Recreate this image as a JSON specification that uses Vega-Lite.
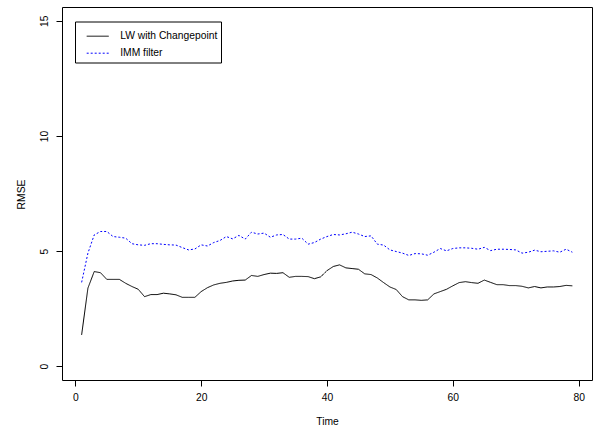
{
  "$schema": "https://vega.github.io/schema/vega-lite/v6.json",
  "autosize": "none",
  "padding": {"left": 62, "top": 7, "right": 1, "bottom": 47},
  "width": 530,
  "height": 373,
  "background": "white",
  "datasets": {
    "lw": [1.36,3.39,4.11,4.06,3.77,3.77,3.77,3.60,3.46,3.34,3.02,3.11,3.11,3.17,3.14,3.10,2.99,2.99,2.99,3.24,3.41,3.53,3.60,3.64,3.70,3.73,3.74,3.94,3.90,3.98,4.04,4.03,4.06,3.86,3.90,3.90,3.89,3.80,3.88,4.15,4.33,4.40,4.27,4.24,4.21,4.01,3.98,3.83,3.63,3.44,3.33,3.02,2.88,2.88,2.86,2.88,3.14,3.24,3.34,3.49,3.63,3.67,3.63,3.60,3.74,3.64,3.54,3.54,3.50,3.50,3.47,3.40,3.46,3.40,3.44,3.44,3.46,3.51,3.49],
    "imm": [3.64,4.91,5.70,5.85,5.85,5.63,5.60,5.56,5.32,5.27,5.25,5.32,5.32,5.29,5.27,5.26,5.15,5.05,5.09,5.27,5.22,5.37,5.46,5.63,5.53,5.68,5.52,5.82,5.74,5.78,5.60,5.70,5.72,5.52,5.52,5.56,5.30,5.37,5.52,5.63,5.72,5.70,5.75,5.82,5.74,5.63,5.66,5.30,5.26,5.05,4.98,4.91,4.81,4.89,4.88,4.82,4.95,5.11,5.01,5.11,5.14,5.14,5.12,5.08,5.16,5.02,5.08,5.08,5.07,5.05,4.91,4.95,5.04,4.97,4.99,5.01,4.95,5.08,4.95]
  },
  "data": {
    "values": [
      {"series": "LW with Changepoint", "time": 1, "rmse": 1.36},{"series": "LW with Changepoint", "time": 2, "rmse": 3.39},{"series": "LW with Changepoint", "time": 3, "rmse": 4.11},{"series": "LW with Changepoint", "time": 4, "rmse": 4.06},{"series": "LW with Changepoint", "time": 5, "rmse": 3.77},{"series": "LW with Changepoint", "time": 6, "rmse": 3.77},{"series": "LW with Changepoint", "time": 7, "rmse": 3.77},{"series": "LW with Changepoint", "time": 8, "rmse": 3.60},{"series": "LW with Changepoint", "time": 9, "rmse": 3.46},{"series": "LW with Changepoint", "time": 10, "rmse": 3.34},
      {"series": "LW with Changepoint", "time": 11, "rmse": 3.02},{"series": "LW with Changepoint", "time": 12, "rmse": 3.11},{"series": "LW with Changepoint", "time": 13, "rmse": 3.11},{"series": "LW with Changepoint", "time": 14, "rmse": 3.17},{"series": "LW with Changepoint", "time": 15, "rmse": 3.14},{"series": "LW with Changepoint", "time": 16, "rmse": 3.10},{"series": "LW with Changepoint", "time": 17, "rmse": 2.99},{"series": "LW with Changepoint", "time": 18, "rmse": 2.99},{"series": "LW with Changepoint", "time": 19, "rmse": 2.99},{"series": "LW with Changepoint", "time": 20, "rmse": 3.24},
      {"series": "LW with Changepoint", "time": 21, "rmse": 3.41},{"series": "LW with Changepoint", "time": 22, "rmse": 3.53},{"series": "LW with Changepoint", "time": 23, "rmse": 3.60},{"series": "LW with Changepoint", "time": 24, "rmse": 3.64},{"series": "LW with Changepoint", "time": 25, "rmse": 3.70},{"series": "LW with Changepoint", "time": 26, "rmse": 3.73},{"series": "LW with Changepoint", "time": 27, "rmse": 3.74},{"series": "LW with Changepoint", "time": 28, "rmse": 3.94},{"series": "LW with Changepoint", "time": 29, "rmse": 3.90},{"series": "LW with Changepoint", "time": 30, "rmse": 3.98},
      {"series": "LW with Changepoint", "time": 31, "rmse": 4.04},{"series": "LW with Changepoint", "time": 32, "rmse": 4.03},{"series": "LW with Changepoint", "time": 33, "rmse": 4.06},{"series": "LW with Changepoint", "time": 34, "rmse": 3.86},{"series": "LW with Changepoint", "time": 35, "rmse": 3.90},{"series": "LW with Changepoint", "time": 36, "rmse": 3.90},{"series": "LW with Changepoint", "time": 37, "rmse": 3.89},{"series": "LW with Changepoint", "time": 38, "rmse": 3.80},{"series": "LW with Changepoint", "time": 39, "rmse": 3.88},{"series": "LW with Changepoint", "time": 40, "rmse": 4.15},
      {"series": "LW with Changepoint", "time": 41, "rmse": 4.33},{"series": "LW with Changepoint", "time": 42, "rmse": 4.40},{"series": "LW with Changepoint", "time": 43, "rmse": 4.27},{"series": "LW with Changepoint", "time": 44, "rmse": 4.24},{"series": "LW with Changepoint", "time": 45, "rmse": 4.21},{"series": "LW with Changepoint", "time": 46, "rmse": 4.01},{"series": "LW with Changepoint", "time": 47, "rmse": 3.98},{"series": "LW with Changepoint", "time": 48, "rmse": 3.83},{"series": "LW with Changepoint", "time": 49, "rmse": 3.63},{"series": "LW with Changepoint", "time": 50, "rmse": 3.44},
      {"series": "LW with Changepoint", "time": 51, "rmse": 3.33},{"series": "LW with Changepoint", "time": 52, "rmse": 3.02},{"series": "LW with Changepoint", "time": 53, "rmse": 2.88},{"series": "LW with Changepoint", "time": 54, "rmse": 2.88},{"series": "LW with Changepoint", "time": 55, "rmse": 2.86},{"series": "LW with Changepoint", "time": 56, "rmse": 2.88},{"series": "LW with Changepoint", "time": 57, "rmse": 3.14},{"series": "LW with Changepoint", "time": 58, "rmse": 3.24},{"series": "LW with Changepoint", "time": 59, "rmse": 3.34},{"series": "LW with Changepoint", "time": 60, "rmse": 3.49},
      {"series": "LW with Changepoint", "time": 61, "rmse": 3.63},{"series": "LW with Changepoint", "time": 62, "rmse": 3.67},{"series": "LW with Changepoint", "time": 63, "rmse": 3.63},{"series": "LW with Changepoint", "time": 64, "rmse": 3.60},{"series": "LW with Changepoint", "time": 65, "rmse": 3.74},{"series": "LW with Changepoint", "time": 66, "rmse": 3.64},{"series": "LW with Changepoint", "time": 67, "rmse": 3.54},{"series": "LW with Changepoint", "time": 68, "rmse": 3.54},{"series": "LW with Changepoint", "time": 69, "rmse": 3.50},{"series": "LW with Changepoint", "time": 70, "rmse": 3.50},
      {"series": "LW with Changepoint", "time": 71, "rmse": 3.47},{"series": "LW with Changepoint", "time": 72, "rmse": 3.40},{"series": "LW with Changepoint", "time": 73, "rmse": 3.46},{"series": "LW with Changepoint", "time": 74, "rmse": 3.40},{"series": "LW with Changepoint", "time": 75, "rmse": 3.44},{"series": "LW with Changepoint", "time": 76, "rmse": 3.44},{"series": "LW with Changepoint", "time": 77, "rmse": 3.46},{"series": "LW with Changepoint", "time": 78, "rmse": 3.51},{"series": "LW with Changepoint", "time": 79, "rmse": 3.49},
      {"series": "IMM filter", "time": 1, "rmse": 3.64},{"series": "IMM filter", "time": 2, "rmse": 4.91},{"series": "IMM filter", "time": 3, "rmse": 5.70},{"series": "IMM filter", "time": 4, "rmse": 5.85},{"series": "IMM filter", "time": 5, "rmse": 5.85},{"series": "IMM filter", "time": 6, "rmse": 5.63},{"series": "IMM filter", "time": 7, "rmse": 5.60},{"series": "IMM filter", "time": 8, "rmse": 5.56},{"series": "IMM filter", "time": 9, "rmse": 5.32},{"series": "IMM filter", "time": 10, "rmse": 5.27},
      {"series": "IMM filter", "time": 11, "rmse": 5.25},{"series": "IMM filter", "time": 12, "rmse": 5.32},{"series": "IMM filter", "time": 13, "rmse": 5.32},{"series": "IMM filter", "time": 14, "rmse": 5.29},{"series": "IMM filter", "time": 15, "rmse": 5.27},{"series": "IMM filter", "time": 16, "rmse": 5.26},{"series": "IMM filter", "time": 17, "rmse": 5.15},{"series": "IMM filter", "time": 18, "rmse": 5.05},{"series": "IMM filter", "time": 19, "rmse": 5.09},{"series": "IMM filter", "time": 20, "rmse": 5.27},
      {"series": "IMM filter", "time": 21, "rmse": 5.22},{"series": "IMM filter", "time": 22, "rmse": 5.37},{"series": "IMM filter", "time": 23, "rmse": 5.46},{"series": "IMM filter", "time": 24, "rmse": 5.63},{"series": "IMM filter", "time": 25, "rmse": 5.53},{"series": "IMM filter", "time": 26, "rmse": 5.68},{"series": "IMM filter", "time": 27, "rmse": 5.52},{"series": "IMM filter", "time": 28, "rmse": 5.82},{"series": "IMM filter", "time": 29, "rmse": 5.74},{"series": "IMM filter", "time": 30, "rmse": 5.78},
      {"series": "IMM filter", "time": 31, "rmse": 5.60},{"series": "IMM filter", "time": 32, "rmse": 5.70},{"series": "IMM filter", "time": 33, "rmse": 5.72},{"series": "IMM filter", "time": 34, "rmse": 5.52},{"series": "IMM filter", "time": 35, "rmse": 5.52},{"series": "IMM filter", "time": 36, "rmse": 5.56},{"series": "IMM filter", "time": 37, "rmse": 5.30},{"series": "IMM filter", "time": 38, "rmse": 5.37},{"series": "IMM filter", "time": 39, "rmse": 5.52},{"series": "IMM filter", "time": 40, "rmse": 5.63},
      {"series": "IMM filter", "time": 41, "rmse": 5.72},{"series": "IMM filter", "time": 42, "rmse": 5.70},{"series": "IMM filter", "time": 43, "rmse": 5.75},{"series": "IMM filter", "time": 44, "rmse": 5.82},{"series": "IMM filter", "time": 45, "rmse": 5.74},{"series": "IMM filter", "time": 46, "rmse": 5.63},{"series": "IMM filter", "time": 47, "rmse": 5.66},{"series": "IMM filter", "time": 48, "rmse": 5.30},{"series": "IMM filter", "time": 49, "rmse": 5.26},{"series": "IMM filter", "time": 50, "rmse": 5.05},
      {"series": "IMM filter", "time": 51, "rmse": 4.98},{"series": "IMM filter", "time": 52, "rmse": 4.91},{"series": "IMM filter", "time": 53, "rmse": 4.81},{"series": "IMM filter", "time": 54, "rmse": 4.89},{"series": "IMM filter", "time": 55, "rmse": 4.88},{"series": "IMM filter", "time": 56, "rmse": 4.82},{"series": "IMM filter", "time": 57, "rmse": 4.95},{"series": "IMM filter", "time": 58, "rmse": 5.11},{"series": "IMM filter", "time": 59, "rmse": 5.01},{"series": "IMM filter", "time": 60, "rmse": 5.11},
      {"series": "IMM filter", "time": 61, "rmse": 5.14},{"series": "IMM filter", "time": 62, "rmse": 5.14},{"series": "IMM filter", "time": 63, "rmse": 5.12},{"series": "IMM filter", "time": 64, "rmse": 5.08},{"series": "IMM filter", "time": 65, "rmse": 5.16},{"series": "IMM filter", "time": 66, "rmse": 5.02},{"series": "IMM filter", "time": 67, "rmse": 5.08},{"series": "IMM filter", "time": 68, "rmse": 5.08},{"series": "IMM filter", "time": 69, "rmse": 5.07},{"series": "IMM filter", "time": 70, "rmse": 5.05},
      {"series": "IMM filter", "time": 71, "rmse": 4.91},{"series": "IMM filter", "time": 72, "rmse": 4.95},{"series": "IMM filter", "time": 73, "rmse": 5.04},{"series": "IMM filter", "time": 74, "rmse": 4.97},{"series": "IMM filter", "time": 75, "rmse": 4.99},{"series": "IMM filter", "time": 76, "rmse": 5.01},{"series": "IMM filter", "time": 77, "rmse": 4.95},{"series": "IMM filter", "time": 78, "rmse": 5.08},{"series": "IMM filter", "time": 79, "rmse": 4.95}
    ]
  },
  "mark": {"type": "line", "strokeWidth": 1, "interpolate": "linear"},
  "encoding": {
    "x": {
      "field": "time", "type": "quantitative",
      "scale": {"domain": [-2.12, 82.12], "nice": false, "zero": false},
      "axis": {"values": [0, 20, 40, 60, 80], "title": "Time", "titleY": 44, "titleBaseline": "alphabetic", "labelPadding": 6}
    },
    "y": {
      "field": "rmse", "type": "quantitative",
      "scale": {"domain": [-0.6, 15.6], "nice": false, "zero": false},
      "axis": {"values": [0, 5, 10, 15], "title": "RMSE", "labelAngle": 270, "labelAlign": "center", "labelBaseline": "alphabetic", "labelPadding": 9, "titleAngle": 270, "titleX": -37.6, "titleY": 187, "titleAlign": "center", "titleBaseline": "alphabetic"}
    },
    "color": {
      "field": "series", "type": "nominal",
      "scale": {"domain": ["LW with Changepoint", "IMM filter"], "range": ["#000000", "#0000FF"]},
      "legend": {"title": null}
    },
    "strokeDash": {
      "field": "series", "type": "nominal",
      "scale": {"domain": ["LW with Changepoint", "IMM filter"], "range": [[1, 0], [2, 2]]},
      "legend": {"title": null}
    }
  },
  "config": {
    "font": "Liberation Sans",
    "view": {"stroke": "#000000", "strokeWidth": 1},
    "axis": {
      "domain": false, "grid": false, "ticks": true, "tickColor": "#000000", "tickSize": 6, "tickWidth": 1,
      "labelFont": "Liberation Sans", "labelFontSize": 10.3, "labelColor": "#000000",
      "titleFont": "Liberation Sans", "titleFontSize": 10.3, "titleFontWeight": "normal", "titleColor": "#000000",
      "labelFlush": false, "labelOverlap": false
    },
    "legend": {
      "orient": "none", "legendX": 13, "legendY": 14.5,
      "direction": "vertical",
      "fillColor": "#FFFFFF", "strokeColor": "#000000", "strokeWidth": 1,
      "padding": 3.2, "rowPadding": -7,
      "symbolType": "stroke", "symbolSize": 484, "symbolStrokeWidth": 1, "symbolOffset": 8,
      "labelFont": "Liberation Sans", "labelFontSize": 10.3, "labelColor": "#000000", "labelOffset": 11, "labelLimit": 300
    }
  }
}
